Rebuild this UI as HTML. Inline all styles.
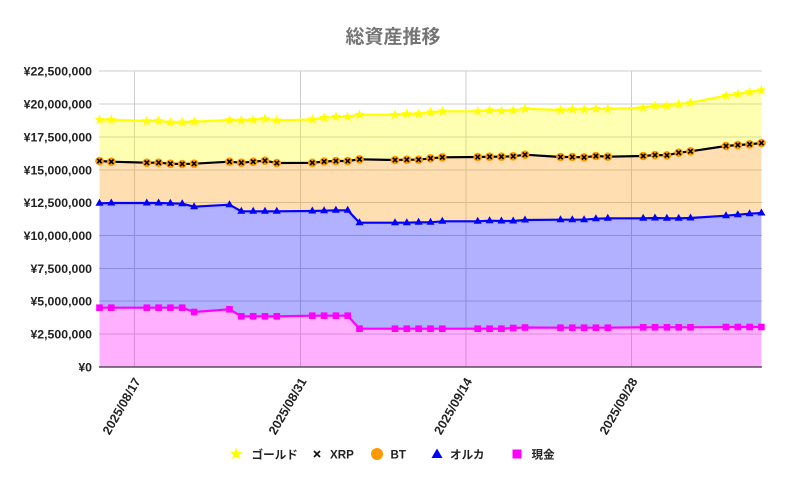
<!DOCTYPE html>
<html><head><meta charset="utf-8"><style>
html,body{margin:0;padding:0;background:#fff;}
svg{display:block;}
text{font-family:"Liberation Sans","Noto Sans CJK JP",sans-serif;}
</style></head><body>
<svg width="786" height="485" viewBox="0 0 786 485" xmlns="http://www.w3.org/2000/svg">
<defs>
<marker id="mStar" markerUnits="userSpaceOnUse" viewBox="-7 -7 14 14" refX="0" refY="0" markerWidth="14" markerHeight="14" overflow="visible">
<polygon points="0,-5.5 1.35,-1.85 5.2,-1.7 2.2,0.7 3.2,4.45 0,2.3 -3.2,4.45 -2.2,0.7 -5.2,-1.7 -1.35,-1.85" fill="#ffff00"/>
</marker>
<marker id="mBT" markerUnits="userSpaceOnUse" viewBox="-7 -7 14 14" refX="0" refY="0" markerWidth="14" markerHeight="14" overflow="visible">
<circle r="4.3" fill="#ff9900"/>
<path d="M-2.2,-2.2L2.2,2.2M2.2,-2.2L-2.2,2.2" stroke="#000" stroke-width="1.6"/>
</marker>
<marker id="mTri" markerUnits="userSpaceOnUse" viewBox="-7 -7 14 14" refX="0" refY="0" markerWidth="14" markerHeight="14" overflow="visible">
<polygon points="0,-4.5 4,2.5 -4,2.5" fill="#0000ff"/>
</marker>
<marker id="mSq" markerUnits="userSpaceOnUse" viewBox="-7 -7 14 14" refX="0" refY="0" markerWidth="14" markerHeight="14" overflow="visible">
<rect x="-3.3" y="-3.3" width="6.6" height="6.6" fill="#ff00ff"/>
</marker>
</defs>

<text x="393" y="43" text-anchor="middle" font-size="19" font-weight="bold" fill="#757575" style="font-family:'Noto Sans CJK JP',sans-serif">総資産推移</text>

<!-- gridlines -->
<g stroke="#cccccc" stroke-width="1">
<line x1="99" y1="71" x2="762" y2="71"/>
<line x1="99" y1="104" x2="762" y2="104"/>
<line x1="99" y1="137" x2="762" y2="137"/>
<line x1="99" y1="170" x2="762" y2="170"/>
<line x1="99" y1="202.5" x2="762" y2="202.5"/>
<line x1="99" y1="235.5" x2="762" y2="235.5"/>
<line x1="99" y1="268.5" x2="762" y2="268.5"/>
<line x1="99" y1="301" x2="762" y2="301"/>
<line x1="99" y1="334" x2="762" y2="334"/>
<line x1="134.5" y1="71" x2="134.5" y2="367"/>
<line x1="300.5" y1="71" x2="300.5" y2="367"/>
<line x1="466" y1="71" x2="466" y2="367"/>
<line x1="631.5" y1="71" x2="631.5" y2="367"/>
</g>

<!-- fills -->
<g opacity="0.3">
<polygon fill="#ffff00" points="99.5,119.7 111.3,119.7 146.8,121 158.6,120.7 170.4,122.3 182.2,122.3 194.1,121.7 229.5,120 241.3,120.3 253.2,119.7 265,118.7 276.8,120.3 312.3,119.5 324.1,117.8 335.9,116.7 347.7,116.7 359.5,114.7 395,114.7 406.8,114 418.6,114 430.5,112.3 442.3,111.3 477.7,111.3 489.6,110.3 501.4,110.7 513.2,110.3 525,108.7 560.5,110 572.3,109.3 584.1,109.3 595.9,108.7 607.8,109 643.2,107.7 655,106 666.9,106 678.7,104.3 690.5,102.7 726,95.7 737.8,94 749.6,92 761.4,90.3 761.4,143 749.6,144.3 737.8,145 726,146 690.5,151.3 678.7,152.7 666.9,155.3 655,155 643.2,156 607.8,156.7 595.9,156 584.1,157.3 572.3,157 560.5,157 525,154.7 513.2,156.3 501.4,156.7 489.6,156.7 477.7,157 442.3,157.3 430.5,158.3 418.6,159.7 406.8,159.7 395,160 359.5,159.3 347.7,161 335.9,161 324.1,161.5 312.3,162.8 276.8,163 265,160.7 253.2,161.7 241.3,162.7 229.5,161.7 194.1,163.7 182.2,164 170.4,163.7 158.6,162.7 146.8,162.7 111.3,161.7 99.5,161"/>
<polygon fill="#ff9900" points="99.5,161 111.3,161.7 146.8,162.7 158.6,162.7 170.4,163.7 182.2,164 194.1,163.7 229.5,161.7 241.3,162.7 253.2,161.7 265,160.7 276.8,163 312.3,162.8 324.1,161.5 335.9,161 347.7,161 359.5,159.3 395,160 406.8,159.7 418.6,159.7 430.5,158.3 442.3,157.3 477.7,157 489.6,156.7 501.4,156.7 513.2,156.3 525,154.7 560.5,157 572.3,157 584.1,157.3 595.9,156 607.8,156.7 643.2,156 655,155 666.9,155.3 678.7,152.7 690.5,151.3 726,146 737.8,145 749.6,144.3 761.4,143 761.4,213 749.6,213.7 737.8,214.7 726,215.7 690.5,218 678.7,218.3 666.9,218.3 655,218 643.2,218.3 607.8,218.3 595.9,218.7 584.1,219.7 572.3,219.7 560.5,219.7 525,220 513.2,221 501.4,221 489.6,220.7 477.7,221.3 442.3,221.3 430.5,222.3 418.6,222.3 406.8,222.7 395,222.7 359.5,222.7 347.7,210.3 335.9,210.3 324.1,210.7 312.3,211 276.8,211.3 265,211.3 253.2,211.3 241.3,211.3 229.5,204.7 194.1,206.7 182.2,203.7 170.4,203.3 158.6,203 146.8,203 111.3,203 99.5,203.3"/>
<polygon fill="#0000ff" points="99.5,203.3 111.3,203 146.8,203 158.6,203 170.4,203.3 182.2,203.7 194.1,206.7 229.5,204.7 241.3,211.3 253.2,211.3 265,211.3 276.8,211.3 312.3,211 324.1,210.7 335.9,210.3 347.7,210.3 359.5,222.7 395,222.7 406.8,222.7 418.6,222.3 430.5,222.3 442.3,221.3 477.7,221.3 489.6,220.7 501.4,221 513.2,221 525,220 560.5,219.7 572.3,219.7 584.1,219.7 595.9,218.7 607.8,218.3 643.2,218.3 655,218 666.9,218.3 678.7,218.3 690.5,218 726,215.7 737.8,214.7 749.6,213.7 761.4,213 761.4,327 749.6,327 737.8,327 726,327 690.5,327.3 678.7,327.3 666.9,327.3 655,327.3 643.2,327.3 607.8,327.7 595.9,327.7 584.1,327.7 572.3,327.7 560.5,327.7 525,327.5 513.2,328 501.4,328.7 489.6,328.7 477.7,328.7 442.3,328.7 430.5,328.7 418.6,328.7 406.8,328.7 395,328.7 359.5,328.7 347.7,315.7 335.9,315.7 324.1,315.7 312.3,315.7 276.8,316.3 265,316.3 253.2,316.3 241.3,316.3 229.5,309.3 194.1,312 182.2,307.7 170.4,307.7 158.6,307.7 146.8,307.7 111.3,307.7 99.5,307.7"/>
<polygon fill="#ff00ff" points="99.5,307.7 111.3,307.7 146.8,307.7 158.6,307.7 170.4,307.7 182.2,307.7 194.1,312 229.5,309.3 241.3,316.3 253.2,316.3 265,316.3 276.8,316.3 312.3,315.7 324.1,315.7 335.9,315.7 347.7,315.7 359.5,328.7 395,328.7 406.8,328.7 418.6,328.7 430.5,328.7 442.3,328.7 477.7,328.7 489.6,328.7 501.4,328.7 513.2,328 525,327.5 560.5,327.7 572.3,327.7 584.1,327.7 595.9,327.7 607.8,327.7 643.2,327.3 655,327.3 666.9,327.3 678.7,327.3 690.5,327.3 726,327 737.8,327 749.6,327 761.4,327 761.4,367 99.5,367"/>
</g>

<line x1="99" y1="367" x2="762" y2="367" stroke="#333" stroke-width="1.2"/>

<!-- lines -->
<g fill="none" stroke-width="2.2" stroke-linejoin="round">
<polyline stroke="#ff00ff" marker-start="url(#mSq)" marker-mid="url(#mSq)" marker-end="url(#mSq)" points="99.5,307.7 111.3,307.7 146.8,307.7 158.6,307.7 170.4,307.7 182.2,307.7 194.1,312 229.5,309.3 241.3,316.3 253.2,316.3 265,316.3 276.8,316.3 312.3,315.7 324.1,315.7 335.9,315.7 347.7,315.7 359.5,328.7 395,328.7 406.8,328.7 418.6,328.7 430.5,328.7 442.3,328.7 477.7,328.7 489.6,328.7 501.4,328.7 513.2,328 525,327.5 560.5,327.7 572.3,327.7 584.1,327.7 595.9,327.7 607.8,327.7 643.2,327.3 655,327.3 666.9,327.3 678.7,327.3 690.5,327.3 726,327 737.8,327 749.6,327 761.4,327"/>
<polyline stroke="#0000ff" marker-start="url(#mTri)" marker-mid="url(#mTri)" marker-end="url(#mTri)" points="99.5,203.3 111.3,203 146.8,203 158.6,203 170.4,203.3 182.2,203.7 194.1,206.7 229.5,204.7 241.3,211.3 253.2,211.3 265,211.3 276.8,211.3 312.3,211 324.1,210.7 335.9,210.3 347.7,210.3 359.5,222.7 395,222.7 406.8,222.7 418.6,222.3 430.5,222.3 442.3,221.3 477.7,221.3 489.6,220.7 501.4,221 513.2,221 525,220 560.5,219.7 572.3,219.7 584.1,219.7 595.9,218.7 607.8,218.3 643.2,218.3 655,218 666.9,218.3 678.7,218.3 690.5,218 726,215.7 737.8,214.7 749.6,213.7 761.4,213"/>
<polyline stroke="#000000" marker-start="url(#mBT)" marker-mid="url(#mBT)" marker-end="url(#mBT)" points="99.5,161 111.3,161.7 146.8,162.7 158.6,162.7 170.4,163.7 182.2,164 194.1,163.7 229.5,161.7 241.3,162.7 253.2,161.7 265,160.7 276.8,163 312.3,162.8 324.1,161.5 335.9,161 347.7,161 359.5,159.3 395,160 406.8,159.7 418.6,159.7 430.5,158.3 442.3,157.3 477.7,157 489.6,156.7 501.4,156.7 513.2,156.3 525,154.7 560.5,157 572.3,157 584.1,157.3 595.9,156 607.8,156.7 643.2,156 655,155 666.9,155.3 678.7,152.7 690.5,151.3 726,146 737.8,145 749.6,144.3 761.4,143"/>
<polyline stroke="#ffff00" marker-start="url(#mStar)" marker-mid="url(#mStar)" marker-end="url(#mStar)" points="99.5,119.7 111.3,119.7 146.8,121 158.6,120.7 170.4,122.3 182.2,122.3 194.1,121.7 229.5,120 241.3,120.3 253.2,119.7 265,118.7 276.8,120.3 312.3,119.5 324.1,117.8 335.9,116.7 347.7,116.7 359.5,114.7 395,114.7 406.8,114 418.6,114 430.5,112.3 442.3,111.3 477.7,111.3 489.6,110.3 501.4,110.7 513.2,110.3 525,108.7 560.5,110 572.3,109.3 584.1,109.3 595.9,108.7 607.8,109 643.2,107.7 655,106 666.9,106 678.7,104.3 690.5,102.7 726,95.7 737.8,94 749.6,92 761.4,90.3"/>
</g>

<!-- y labels -->
<g font-size="12.3" font-weight="bold" fill="#222" text-anchor="end">
<text x="92" y="75.3">¥22,500,000</text>
<text x="92" y="108.3">¥20,000,000</text>
<text x="92" y="141.3">¥17,500,000</text>
<text x="92" y="174.3">¥15,000,000</text>
<text x="92" y="206.8">¥12,500,000</text>
<text x="92" y="239.8">¥10,000,000</text>
<text x="92" y="272.8">¥7,500,000</text>
<text x="92" y="305.3">¥5,000,000</text>
<text x="92" y="338.3">¥2,500,000</text>
<text x="92" y="371.3">¥0</text>
</g>

<!-- x labels -->
<g font-size="12.6" font-weight="bold" fill="#222" text-anchor="end">
<text x="141" y="381" transform="rotate(-60 141 381)">2025/08/17</text>
<text x="307" y="381" transform="rotate(-60 307 381)">2025/08/31</text>
<text x="472.5" y="381" transform="rotate(-60 472.5 381)">2025/09/14</text>
<text x="638" y="381" transform="rotate(-60 638 381)">2025/09/28</text>
</g>

<!-- legend -->
<g>
<polygon transform="translate(236,454)" points="0,-6.5 1.6,-2.2 6.2,-2 2.6,0.8 3.8,5.3 0,2.7 -3.8,5.3 -2.6,0.8 -6.2,-2 -1.6,-2.2" fill="#ffff00"/>
<path d="M314,451L320,457M320,451L314,457" stroke="#111" stroke-width="1.7"/>
<circle cx="377" cy="454" r="6" fill="#ff9900"/>
<polygon points="437,448.5 442.5,458 431.5,458" fill="#0000ff"/>
<rect x="512.5" y="449.5" width="9" height="9" fill="#ff00ff"/>
</g>
<g font-size="11.6" font-weight="bold" fill="#222">
<text x="251.5" y="458.5">ゴールド</text>
<text x="330" y="458.5">XRP</text>
<text x="390.5" y="458.5">BT</text>
<text x="450" y="458.5">オルカ</text>
<text x="531.5" y="458.5">現金</text>
</g>
</svg>
</body></html>
